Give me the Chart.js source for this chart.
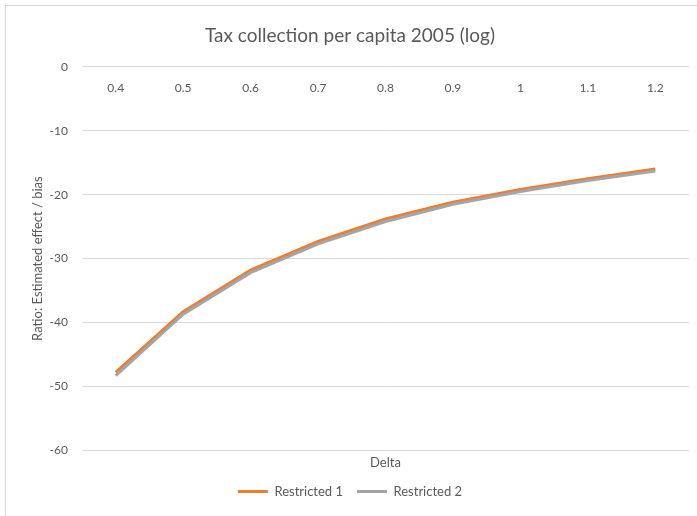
<!DOCTYPE html>
<html>
<head>
<meta charset="utf-8">
<script src="https://cdn.jsdelivr.net/npm/chart.js@4/dist/chart.umd.min.js"></script>
<style>
  html, body { margin: 0; padding: 0; background: #fff; }
  #wrap { position: relative; width: 697px; height: 516px; overflow: hidden; }
  #frame { position: absolute; left: 5px; top: 5px; width: 720px; height: 540px;
           border: 1px solid #d9d9d9; box-sizing: border-box; }
  canvas { position: absolute; left: 0; top: 0; }
</style>
</head>
<body>
<div id="wrap">
  <div id="frame"></div>
  <canvas id="grafico" width="697" height="516"></canvas>
</div>
<script>
// valores
const deltas = ["0.4", "0.5", "0.6", "0.7", "0.8", "0.9", "1", "1.1", "1.2"];
const restricted1 = [-47.8, -38.3, -31.8, -27.3, -23.8, -21.2, -19.2, -17.5, -16.0];
const restricted2 = [-48.3, -38.7, -32.2, -27.7, -24.2, -21.5, -19.5, -17.8, -16.3];

const gris = "#595959";
const fuente = "Lato, 'Open Sans', sans-serif";

const ctx = document.getElementById("grafico").getContext("2d");

new Chart(ctx, {
  type: "line",
  data: {
    labels: deltas,
    datasets: [
      {
        label: "Restricted 1",
        data: restricted1,
        borderColor: "#ED7D31",
        backgroundColor: "#ED7D31",
        borderWidth: 3,
        pointRadius: 0,
        tension: 0,
        order: 1,
      },
      {
        label: "Restricted 2",
        data: restricted2,
        borderColor: "#A5A5A5",
        backgroundColor: "#A5A5A5",
        borderWidth: 3,
        pointRadius: 0,
        tension: 0,
        order: 0,
      },
    ],
  },
  options: {
    responsive: false,
    animation: false,
    layout: {
      padding: { left: 11, right: 8, top: 0, bottom: 8 },
    },
    plugins: {
      title: {
        display: true,
        text: "Tax collection per capita 2005 (log)",
        color: gris,
        font: { family: fuente, size: 19, weight: "normal" },
        padding: { top: 24, bottom: 20 },
      },
      legend: {
        position: "bottom",
        labels: {
          color: gris,
          font: { family: fuente, size: 13 },
          usePointStyle: true,
          pointStyle: "line",
          pointStyleWidth: 30,
          padding: 14,
          sort: (a, b) => a.datasetIndex - b.datasetIndex,
        },
      },
      tooltip: { enabled: false },
    },
    scales: {
      x: {
        type: "category",
        position: { y: 0 },
        offset: true,
        grid: { display: false, drawTicks: false },
        border: { display: false },
        ticks: {
          color: gris,
          font: { family: fuente, size: 12 },
          padding: 14,
          maxRotation: 0,
        },
      },
      x2: {
        type: "category",
        axis: "x",
        position: "bottom",
        offset: true,
        grid: { display: false, drawTicks: false },
        border: { display: false },
        ticks: { display: false },
        title: {
          display: true,
          text: "Delta",
          color: gris,
          font: { family: fuente, size: 13 },
          padding: { top: 5, bottom: 0 },
        },
      },
      y: {
        min: -60,
        max: 0,
        grid: { color: "#D9D9D9", drawTicks: false },
        border: { display: false },
        ticks: {
          stepSize: 10,
          color: gris,
          font: { family: fuente, size: 12 },
          padding: 14,
        },
        title: {
          display: true,
          text: "Ratio: Estimated effect / bias",
          color: gris,
          font: { family: fuente, size: 13 },
          padding: { top: 19, bottom: 0 },
        },
        afterFit: (escala) => {
          escala.width = 71;
        },
      },
    },
  },
});
</script>
</body>
</html>
